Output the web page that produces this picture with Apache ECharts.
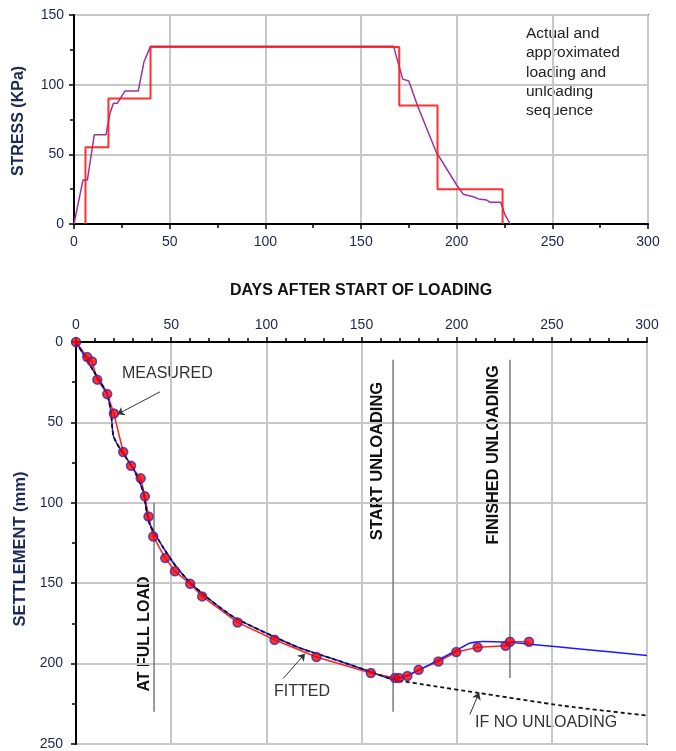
<!DOCTYPE html>
<html>
<head>
<meta charset="utf-8">
<script src="https://cdn.jsdelivr.net/npm/echarts@6/dist/echarts.min.js"></script>
<style>html,body{margin:0;padding:0;background:#fff}#c{width:676px;height:751px}</style>
</head>
<body>
<div id="c"></div>
<script>
// ---- Top chart: loading sequence ----
const approxDays   = [6, 6, 18, 18, 40, 40, 170, 170, 190, 190, 224, 224];
const approxStress = [0, 55, 55, 90, 90, 127, 127, 85, 85, 25, 25, 0];
const actualDays   = [0, 4.7, 7, 10.6, 16.7, 18.8, 20.6, 22.6, 26.7, 33.6, 36.6, 40, 167, 171.8, 175, 179.5, 189.2, 200, 203.5, 208.7, 211.4, 215.7, 217.5, 223, 225.3, 228];
const actualStress = [0, 31.6, 31.6, 64, 64, 79.5, 86.6, 86.6, 95.5, 95.5, 116.5, 127.5, 127.5, 104, 102.6, 85, 52, 28, 21.3, 19.6, 18, 17.2, 15.6, 15.6, 6.5, 0];

// ---- Bottom chart: settlement ----
const measuredDays   = [0, 5.9, 8.4, 11.2, 16.4, 19.9, 24.8, 28.9, 34, 36.2, 38.1, 40.6, 46.9, 52, 60, 66.3, 84.9, 104.3, 126.3, 154.9, 167.6, 169.7, 174.1, 180, 190.4, 199.8, 211, 225.7, 228, 238];
const measuredSettle = [0, 9.4, 12.1, 23.4, 32.4, 44.5, 68.4, 77, 84.8, 96, 108.5, 121, 134.4, 142.6, 150.4, 158.2, 174.4, 185.2, 195.9, 205.9, 209, 209, 207.7, 203.9, 198.7, 192.8, 189.9, 188.9, 186.4, 186.4];
const fittedDays   = [0, 10.9, 16.1, 18.4, 19.6, 23.1, 30.1, 35.3, 37.1, 38.8, 45.8, 52.9, 59.8, 68.6, 82.6, 100.1, 117.6, 138.6, 154.9, 166.6, 175.3, 185.8, 199.8, 206.8, 213.8, 227.8, 238.3, 264.6, 300];
const fittedSettle = [0, 21.3, 31.6, 43.8, 58.2, 66.4, 78.7, 93, 105.3, 113.5, 127.8, 140.1, 149.4, 158.6, 170.9, 181.1, 190.3, 198.5, 205.1, 209.8, 206.7, 200.6, 191.8, 187.3, 186.2, 186.8, 187.9, 190.9, 195];
const noUnloadDays   = [188, 210.3, 255.8, 300];
const noUnloadSettle = [214, 218, 226.2, 232.3];

// event markers
const fullLoadDay = 41,   fullLoadRange = [100, 230];
const startUnloadDay = 166.6, startUnloadRange = [11, 230];
const finishUnloadDay = 228,  finishUnloadRange = [11, 209];

// tick labels
const xTicks = [0, 50, 100, 150, 200, 250, 300];
const stressTicks = [0, 50, 100, 150];
const settleTicks = [0, 50, 100, 150, 200, 250];

const zip = (a, b) => a.map((v, i) => [v, b[i]]);
const cutIdx = fittedDays.indexOf(startUnloadDay);
const noUnload = zip(fittedDays.slice(0, cutIdx + 1), fittedSettle.slice(0, cutIdx + 1)).concat(zip(noUnloadDays, noUnloadSettle));

const FONT = 'Liberation Sans, Arial, sans-serif';
const tickColor = '#1c2550';
const gridLine = { show: true, lineStyle: { color: '#c8c8c8', width: 2 } };

function xAxisBase(gridIndex, pos, minorSplit, margin) {
  return {
    type: 'value', gridIndex, position: pos, min: 0, max: 300, interval: 50,
    axisLine: { show: true, onZero: false, lineStyle: { color: '#000', width: 2 } },
    axisTick: { show: true, length: 5, lineStyle: { color: '#000', width: 1.5 } },
    minorTick: { show: true, splitNumber: minorSplit, length: 4, lineStyle: { color: '#000', width: 1.5 } },
    axisLabel: { color: tickColor, fontSize: 14, fontFamily: FONT, margin,
      formatter: v => xTicks.includes(v) ? String(v) : '' },
    splitLine: gridLine
  };
}

const option = {
  animation: false,
  backgroundColor: '#fff',
  grid: [
    { left: 74, top: 15, width: 574, height: 209, show: true, borderColor: '#000', borderWidth: 1.5 },
    { left: 76, top: 342, width: 571, height: 406, show: true, borderColor: '#000', borderWidth: 1.5 }
  ],
  xAxis: [
    xAxisBase(0, 'bottom', 2, 11),
    xAxisBase(1, 'top', 5, 10)
  ],
  yAxis: [
    { type: 'value', gridIndex: 0, min: 0, max: 150, interval: 50,
      axisLine: { show: true, lineStyle: { color: '#000', width: 2 } },
      axisTick: { show: true, length: 5, lineStyle: { color: '#000', width: 1.5 } },
      minorTick: { show: true, splitNumber: 2, length: 4, lineStyle: { color: '#000', width: 1.5 } },
      axisLabel: { color: tickColor, fontSize: 14, fontFamily: FONT, margin: 10,
        formatter: v => stressTicks.includes(v) ? String(v) : '' },
      splitLine: gridLine },
    { type: 'value', gridIndex: 1, min: 0, max: 250, interval: 50, inverse: true,
      axisLine: { show: true, onZero: false, lineStyle: { color: '#000', width: 2 } },
      axisTick: { show: true, length: 5, lineStyle: { color: '#000', width: 1.5 } },
      minorTick: { show: true, splitNumber: 2, length: 4, lineStyle: { color: '#000', width: 1.5 } },
      axisLabel: { color: tickColor, fontSize: 14, fontFamily: FONT, margin: 13,
        formatter: v => settleTicks.includes(v) ? String(v) : '' },
      splitLine: gridLine }
  ],
  series: [
    { type: 'line', xAxisIndex: 0, yAxisIndex: 0, data: zip(actualDays, actualStress), symbol: 'none',
      lineStyle: { color: '#9933a0', width: 1.5 }, z: 3 },
    { type: 'line', xAxisIndex: 0, yAxisIndex: 0, data: zip(approxDays, approxStress), symbol: 'none',
      lineStyle: { color: '#ff1a1a', width: 2, opacity: 0.9 }, z: 4 },
    // event marker lines
    { type: 'line', xAxisIndex: 1, yAxisIndex: 1, data: fullLoadRange.map(v => [fullLoadDay, v]), symbol: 'none',
      lineStyle: { color: '#7a7a7a', width: 1.5 }, z: 2 },
    { type: 'line', xAxisIndex: 1, yAxisIndex: 1, data: startUnloadRange.map(v => [startUnloadDay, v]), symbol: 'none',
      lineStyle: { color: '#7a7a7a', width: 1.5 }, z: 2 },
    { type: 'line', xAxisIndex: 1, yAxisIndex: 1, data: finishUnloadRange.map(v => [finishUnloadDay, v]), symbol: 'none',
      lineStyle: { color: '#7a7a7a', width: 1.5 }, z: 2 },
    // measured line
    { type: 'line', xAxisIndex: 1, yAxisIndex: 1, data: zip(measuredDays, measuredSettle), symbol: 'none',
      lineStyle: { color: '#ff2020', width: 1.5 }, z: 3 },
    // fitted
    { type: 'line', xAxisIndex: 1, yAxisIndex: 1, data: zip(fittedDays, fittedSettle), symbol: 'none', smooth: 0.2,
      lineStyle: { color: '#1a1aff', width: 1.5 }, z: 4 },
    // if no unloading
    { type: 'line', xAxisIndex: 1, yAxisIndex: 1, data: noUnload, symbol: 'none', smooth: 0.2,
      lineStyle: { color: '#111', width: 1.8, type: [4, 3] }, z: 5,
      markLine: { silent: true, animation: false, symbol: ['none', 'arrow'], symbolSize: 7, label: { show: false },
        lineStyle: { color: '#333', width: 1, type: 'solid' },
        data: [
          [{ coord: [44.1, 31] }, { coord: [21.7, 45] }],
          [{ coord: [108.9, 209.2] }, { coord: [120.3, 193.8] }],
          [{ coord: [206.9, 231.7] }, { coord: [211.8, 218] }]
        ] } },
    // measured points
    { type: 'scatter', xAxisIndex: 1, yAxisIndex: 1, data: zip(measuredDays, measuredSettle), symbol: 'circle', symbolSize: 9,
      itemStyle: { color: '#ff0000', borderColor: '#3a2aa8', borderWidth: 1.5 }, z: 6 }
  ],
  graphic: [
    { type: 'text', left: 526, top: 24, style: { text: 'Actual and\napproximated\nloading and\nunloading\nsequence',
      font: '15.5px ' + FONT, lineHeight: 19.3, fill: '#222' } },
    { type: 'text', x: 361, y: 291, style: { text: 'DAYS AFTER START OF LOADING', font: 'bold 16px ' + FONT,
      fill: '#111', align: 'center', verticalAlign: 'middle' } },
    { type: 'text', x: 19, y: 121, rotation: Math.PI / 2, style: { text: 'STRESS (KPa)', font: 'bold 16px ' + FONT,
      fill: '#1c2a5a', align: 'center', verticalAlign: 'middle' } },
    { type: 'text', x: 20, y: 549, rotation: Math.PI / 2, style: { text: 'SETTLEMENT (mm)', font: 'bold 16.5px ' + FONT,
      fill: '#1c2a5a', align: 'center', verticalAlign: 'middle' } },
    { type: 'text', x: 122, y: 374, style: { text: 'MEASURED', font: '16px ' + FONT, fill: '#333', verticalAlign: 'middle' } },
    { type: 'text', x: 274, y: 692, style: { text: 'FITTED', font: '16px ' + FONT, fill: '#333', verticalAlign: 'middle' } },
    { type: 'text', x: 475, y: 723, style: { text: 'IF NO UNLOADING', font: '16px ' + FONT, fill: '#333', verticalAlign: 'middle' } },
    { type: 'text', x: 145, y: 634, rotation: Math.PI / 2, style: { text: 'AT FULL LOAD', font: 'bold 16px ' + FONT,
      fill: '#111', align: 'center', verticalAlign: 'middle' } },
    { type: 'text', x: 377, y: 461, rotation: Math.PI / 2, style: { text: 'START UNLOADING', font: 'bold 16.5px ' + FONT,
      fill: '#111', align: 'center', verticalAlign: 'middle' } },
    { type: 'text', x: 494, y: 455, rotation: Math.PI / 2, style: { text: 'FINISHED UNLOADING', font: 'bold 16.3px ' + FONT,
      fill: '#111', align: 'center', verticalAlign: 'middle' } }
  ]
};

const chart = echarts.init(document.getElementById('c'), null, { renderer: 'canvas' });
chart.setOption(option);
</script>
</body>
</html>
